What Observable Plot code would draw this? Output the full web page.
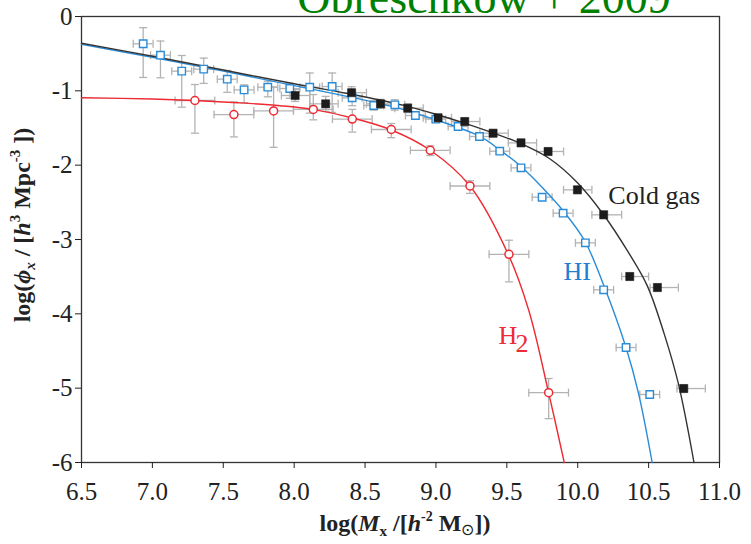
<!DOCTYPE html>
<html>
<head>
<meta charset="utf-8">
<script src="https://cdn.jsdelivr.net/npm/d3@7"></script>
<script src="https://cdn.jsdelivr.net/npm/@observablehq/plot@0.6"></script>
<style>
  html, body { margin: 0; padding: 0; background: #fff; }
  #chart { width: 751px; height: 544px; overflow: hidden; }
  #chart svg, #chart svg text { font-family: "Liberation Serif", "Times New Roman", serif; }
</style>
</head>
<body>
<div id="chart"></div>
<script>
const SERIF = "Liberation Serif, Times New Roman, serif";

// Axis ticks and their printed labels
const xTicks = [6.5, 7.0, 7.5, 8.0, 8.5, 9.0, 9.5, 10.0, 10.5, 11.0];
const xTickLabels = ["6.5", "7.0", "7.5", "8.0", "8.5", "9.0", "9.5", "10.0", "10.5", "11.0"];
const yTicks = [0, -1, -2, -3, -4, -5, -6];
const yTickLabels = ["0", "-1", "-2", "-3", "-4", "-5", "-6"];

// Cold gas mass function (filled squares)
const coldX = [8.007, 8.222, 8.405, 8.609, 8.801, 9.015, 9.203, 9.403, 9.600, 9.791, 9.998, 10.183, 10.367, 10.562, 10.748];
const coldY = [-1.063, -1.175, -1.025, -1.175, -1.233, -1.363, -1.413, -1.570, -1.700, -1.816, -2.332, -2.668, -3.498, -3.646, -5.005];
const coldXLo = [7.91, 8.11, 8.31, 8.51, 8.71, 8.91, 9.11, 9.31, 9.51, 9.71, 9.90, 10.10, 10.31, 10.51, 10.70];
const coldXHi = [8.11, 8.31, 8.51, 8.71, 8.91, 9.11, 9.31, 9.51, 9.71, 9.90, 10.10, 10.31, 10.50, 10.71, 10.90];
const coldYErr = [0.08, 0.10, 0.08, 0.06, 0.06, 0.05, 0.05, 0.05, 0.05, 0.05, 0.05, 0.05, 0.05, 0.05, 0.05];

// HI mass function (open squares)
const hiX = [6.935, 7.057, 7.207, 7.362, 7.528, 7.647, 7.814, 7.969, 8.110, 8.268, 8.409, 8.561, 8.710, 8.855, 8.999, 9.156, 9.307, 9.450, 9.600, 9.749, 9.897, 10.054, 10.183, 10.341, 10.508];
const hiY = [-0.367, -0.520, -0.735, -0.708, -0.843, -0.987, -0.951, -0.969, -0.951, -0.942, -1.094, -1.197, -1.188, -1.332, -1.381, -1.480, -1.614, -1.812, -2.036, -2.431, -2.646, -3.045, -3.677, -4.453, -5.085];
const hiYHi = [-0.15, -0.33, -0.525, -0.56, -0.726, -0.92, -0.87, -0.90, -0.76, -0.76, -1.00, -1.13, -1.12, -1.28, -1.34, -1.44, -1.58, -1.78, -2.00, -2.40, -2.61, -3.01, -3.64, -4.41, -5.04];
const hiYLo = [-0.82, -0.825, -1.22, -0.90, -1.02, -1.16, -1.08, -1.10, -1.30, -1.29, -1.20, -1.26, -1.26, -1.38, -1.42, -1.52, -1.65, -1.85, -2.07, -2.46, -2.68, -3.08, -3.72, -4.50, -5.13];
const hiXErr = 0.07;

// H2 mass function (open circles)
const h2X = [7.300, 7.575, 7.855, 8.135, 8.410, 8.685, 8.960, 9.240, 9.515, 9.795];
const h2Y = [-1.13, -1.32, -1.27, -1.25, -1.38, -1.52, -1.80, -2.28, -3.20, -5.06];
const h2YHi = [-0.915, -1.15, -0.95, -1.05, -1.25, -1.44, -1.74, -2.21, -3.01, -4.87];
const h2YLo = [-1.57, -1.62, -1.76, -1.39, -1.555, -1.63, -1.87, -2.38, -3.57, -5.41];
const h2XErr = 0.14;

// Fitted Schechter-type curves
const coldFitX = [6.5, 7.0, 7.5, 8.0, 8.4, 8.75, 9.0, 9.2, 9.4, 9.6, 9.8, 10.0, 10.18, 10.35, 10.49, 10.61, 10.71, 10.82];
const coldFitY = [-0.36, -0.535, -0.72, -0.905, -1.045, -1.185, -1.315, -1.435, -1.565, -1.71, -1.91, -2.24, -2.66, -3.15, -3.62, -4.27, -4.94, -6.0];
const hiFitX = [6.5, 7.0, 7.5, 8.0, 8.4, 8.71, 9.0, 9.31, 9.45, 9.6, 9.75, 9.9, 10.05, 10.18, 10.34, 10.43, 10.525];
const hiFitY = [-0.375, -0.55, -0.735, -0.93, -1.085, -1.22, -1.39, -1.614, -1.794, -2.018, -2.30, -2.62, -3.02, -3.60, -4.45, -5.08, -6.0];
const h2FitX = [6.5, 7.0, 7.3, 7.6, 7.9, 8.13, 8.41, 8.69, 8.96, 9.24, 9.51, 9.655, 9.795, 9.905];
const h2FitY = [-1.094, -1.11, -1.13, -1.16, -1.2, -1.25, -1.365, -1.53, -1.80, -2.28, -3.20, -3.955, -5.063, -6.0];

// In-panel series labels
const seriesLabels = [
  {text: "Cold gas", x: 10.216, y: -2.52, color: "#222222"},
  {text: "HI", x: 9.899, y: -3.55, color: "#1f7fd0"},
  {text: "H", x: 9.441, y: -4.40, color: "#ee2a32"},
  {text: "2", x: 9.561, y: -4.52, color: "#ee2a32"}
];

const COLD = "#1c1c1c", HI = "#2a8bd6", H2 = "#ee2a32", ERR = "#b3b3b3";

const rows = (xs, ys, f) => xs.map((x, i) => ({x, y: ys[i], ...f(x, i)}));
const coldRows = rows(coldX, coldY, (x, i) => ({xLo: coldXLo[i], xHi: coldXHi[i], yLo: coldY[i] - coldYErr[i], yHi: coldY[i] + coldYErr[i]}));
const hiRows = rows(hiX, hiY, (x, i) => ({xLo: x - hiXErr, xHi: x + hiXErr, yLo: hiYLo[i], yHi: hiYHi[i]}));
const h2Rows = rows(h2X, h2Y, (x, i) => ({xLo: x - h2XErr, xHi: x + h2XErr, yLo: h2YLo[i], yHi: h2YHi[i]}));
const fit = (xs, ys) => xs.map((x, i) => ({x, y: ys[i]}));

// Short cap symbols for the error bars
const capV = {draw(ctx, size) { const h = Math.sqrt(size / Math.PI); ctx.moveTo(0, -h); ctx.lineTo(0, h); }};
const capH = {draw(ctx, size) { const h = Math.sqrt(size / Math.PI); ctx.moveTo(-h, 0); ctx.lineTo(h, 0); }};

function errorBars(data) {
  const o = {stroke: ERR, strokeWidth: 1.3};
  return [
    Plot.ruleY(data, {y: "y", x1: "xLo", x2: "xHi", ...o}),
    Plot.ruleX(data, {x: "x", y1: "yLo", y2: "yHi", ...o}),
    Plot.dot(data, {x: "xLo", y: "y", symbol: capV, r: 4, ...o}),
    Plot.dot(data, {x: "xHi", y: "y", symbol: capV, r: 4, ...o}),
    Plot.dot(data, {x: "x", y: "yLo", symbol: capH, r: 4, ...o}),
    Plot.dot(data, {x: "x", y: "yHi", symbol: capH, r: 4, ...o})
  ];
}

const chart = Plot.plot({
  width: 751,
  height: 544,
  marginLeft: 81,
  marginRight: 32,
  marginTop: 16,
  marginBottom: 82,
  style: {fontFamily: SERIF, fontSize: "24px", color: "#222", background: "#fff"},
  x: {domain: [6.5, 11]},
  y: {domain: [-6, 0]},
  marks: [
    Plot.frame({stroke: "#333", strokeWidth: 1.3}),
    Plot.axisX({ticks: xTicks, tickFormat: d => xTickLabels[xTicks.indexOf(d)], tickSize: 6, tickPadding: 14, label: null, fontSize: 25, fontFamily: SERIF, stroke: "#222"}),
    Plot.axisY({ticks: yTicks, tickFormat: d => yTickLabels[yTicks.indexOf(d)], tickSize: 6, tickPadding: 3, label: null, fontSize: 25, fontFamily: SERIF, stroke: "#222"}),
    ...errorBars(h2Rows),
    ...errorBars(hiRows),
    ...errorBars(coldRows),
    Plot.line(fit(h2FitX, h2FitY), {x: "x", y: "y", stroke: H2, strokeWidth: 1.4, curve: "catmull-rom"}),
    Plot.line(fit(hiFitX, hiFitY), {x: "x", y: "y", stroke: HI, strokeWidth: 1.4, curve: "catmull-rom"}),
    Plot.line(fit(coldFitX, coldFitY), {x: "x", y: "y", stroke: "#333", strokeWidth: 1.4, curve: "catmull-rom"}),
    Plot.dot(h2Rows, {x: "x", y: "y", symbol: "circle", r: 4, fill: "#fff", stroke: H2, strokeWidth: 1.5}),
    Plot.dot(hiRows, {x: "x", y: "y", symbol: "square", r: 4.2, fill: "#fff", stroke: HI, strokeWidth: 1.4}),
    Plot.dot(coldRows, {x: "x", y: "y", symbol: "square", r: 4.6, fill: COLD, stroke: COLD, strokeWidth: 0.5}),
    Plot.text(seriesLabels, {x: "x", y: "y", text: "text", fill: "color", textAnchor: "start", lineAnchor: "bottom", fontSize: 26, fontFamily: SERIF})
  ]
});

const svg = d3.select(chart);

// Axis titles with italic symbols, sub- and superscripts
const xt = svg.append("text")
  .attr("x", 405).attr("y", 531)
  .attr("text-anchor", "middle")
  .attr("font-family", SERIF)
  .attr("font-weight", "bold").attr("font-size", 24).attr("fill", "#222");
xt.append("tspan").text("log(");
xt.append("tspan").attr("font-style", "italic").text("M");
xt.append("tspan").attr("font-size", 15).attr("dy", 5).text("x");
xt.append("tspan").attr("dy", -5).text(" /[");
xt.append("tspan").attr("font-style", "italic").text("h");
xt.append("tspan").attr("font-size", 14).attr("dy", -10).text("-2");
xt.append("tspan").attr("dy", 10).text(" M");
xt.append("tspan").attr("font-size", 16).attr("dy", 4).attr("font-weight", "normal").text("\u2299");
xt.append("tspan").attr("dy", -4).text("])");

const yt = svg.append("text")
  .attr("transform", "translate(30,225) rotate(-90)")
  .attr("text-anchor", "middle")
  .attr("font-family", SERIF)
  .attr("font-weight", "bold").attr("font-size", 24).attr("fill", "#222");
yt.append("tspan").text("log(");
yt.append("tspan").attr("font-style", "italic").text("\u03d5");
yt.append("tspan").attr("font-size", 15).attr("dy", 5).attr("font-style", "italic").text("x");
yt.append("tspan").attr("dy", -5).text(" / [");
yt.append("tspan").attr("font-style", "italic").text("h");
yt.append("tspan").attr("font-size", 15).attr("dy", -10).text("3");
yt.append("tspan").attr("dy", 10).text(" Mpc");
yt.append("tspan").attr("font-size", 15).attr("dy", -10).text("-3");
yt.append("tspan").attr("dy", 10).text(" ])");

// Citation heading above the panel
svg.append("text")
  .attr("x", 484).attr("y", 13)
  .attr("text-anchor", "middle")
  .attr("font-family", SERIF)
  .attr("font-size", 46).attr("fill", "#008000")
  .text("Obreschkow + 2009");

document.getElementById("chart").append(chart);
</script>
</body>
</html>
